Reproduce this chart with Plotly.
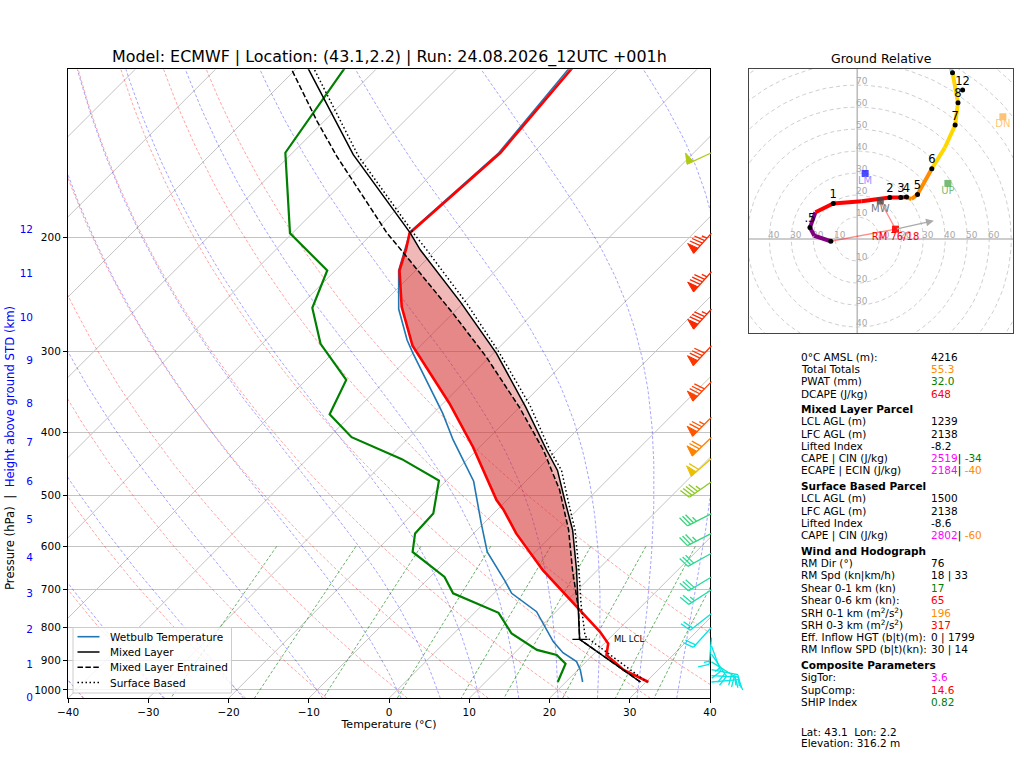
import numpy as np
import plotly.graph_objects as go

W, H = 1024, 768

# ---------------- sounding values ----------------
p_temp = [100, 148, 197, 208, 225, 256, 294, 361, 421, 509, 527, 573, 653, 744, 813, 848, 883, 931, 972]
t_temp = [-56.2, -54.1, -55.4, -53.9, -52.0, -47.2, -41.0, -29.2, -20.9, -11.3, -9.2, -4.7, 3.2, 12.0,
          18.0, 20.5, 21.7, 25.7, 30.3]

p_dwpt = [100, 148, 197, 225, 257, 292, 332, 375, 407, 440, 475, 534, 573, 612, 669, 709, 760, 818, 867,
          883, 911, 972]
t_dwpt = [-85.0, -80.9, -70.3, -61.0, -58.2, -52.7, -45.0, -42.8, -37.2, -28.2, -20.9, -17.5, -17.3, -15.3,
          -8.2, -5.1, 3.0, 7.2, 12.4, 15.5, 17.7, 19.0]

p_wetb = [100, 148, 196, 225, 258, 288, 302, 336, 374, 411, 476, 553, 612, 677, 709, 757, 799, 842, 876,
          904, 931, 972]
t_wetb = [-56.6, -54.3, -55.5, -52.1, -47.3, -42.4, -40.0, -34.4, -28.8, -24.2, -16.5, -10.3, -6.0, -0.3,
          2.2, 7.6, 10.5, 13.4, 16.0, 18.8, 20.3, 22.1]

# parcels
p_ml = [100, 110, 149, 197, 209, 252, 302, 366, 426, 458, 509, 566, 653, 752, 835, 972]
t_ml = [-93.7, -88.4, -72.2, -55.3, -52.0, -40.4, -29.6, -19.2, -11.3, -7.4, -2.8, 1.9, 7.4, 12.6, 16.4, 29.3]

p_mle = [100, 110, 132, 150, 197, 209, 262, 306, 366, 426, 491, 566, 653, 752, 835, 972]
t_mle = [-95.5, -90.5, -81.0, -74.0, -58.2, -54.4, -40.0, -30.4, -20.0, -11.7, -4.7, 1.4, 6.9, 12.6, 16.4, 29.3]

p_sb = [100, 110, 150, 197, 209, 253, 302, 363, 426, 458, 509, 566, 653, 735, 826, 972]
t_sb = [-93.0, -87.7, -71.3, -54.9, -51.2, -39.5, -29.2, -19.0, -10.9, -6.9, -2.4, 2.2, 7.7, 12.1, 16.7, 30.1]

lcl_p, lcl_t = 835, 16.4

# height axis (km above ground) and matching pressure
hgt_km = list(range(13))
hgt_p = [1028, 913, 806, 709, 624, 545, 476, 415, 361, 310, 266, 227, 194]

# wind barbs
barb_p = [148, 197, 226, 258, 294, 334, 379, 407, 439, 477, 534, 573, 615, 669, 700, 762, 800,
          830, 855, 880, 905, 930, 950, 972]
barb_dir = [245, 222, 222, 222, 223, 224, 225, 226, 229, 235, 243, 243, 241, 239, 237, 232, 222,
            185, 160, 146, 122, 101, 93, 85]
barb_spd = [50, 85, 85, 85, 82, 80, 76, 68, 58, 46, 36, 35, 30, 29, 27, 22, 18,
            17, 17, 19, 22, 21, 18, 12]

# hodograph (kt)
hodo_h = [0, 0.25, 0.5, 0.75, 1, 1.5, 2, 3, 4, 4.5, 5, 6, 6.5, 7, 8, 9, 10]
hodo_u = [-12.0, -19.5, -21.5, -19.0, -10.9, 2.0, 14.8, 19.8, 22.4, 24.7, 27.4, 33.9, 39.8, 44.5, 45.8, 43.3, 38.0]
hodo_v = [-1.0, 1.5, 5.2, 12.2, 16.2, 17.2, 18.9, 18.9, 19.1, 18.2, 20.3, 32.0, 41.5, 51.8, 62.0, 75.6, 88.0]
dot_h = [0, 0.5, 1, 2, 3, 4, 5, 6, 7, 8, 9]
lbl_h = [0.5, 1, 2, 3, 4, 5, 6, 7, 8]
lbl_t = [".5", "1", "2", "3", "4", "5", "6", "7", "8"]
h12_u, h12_v = 47.9, 67.7

mk_names = ["LM", "UP", "DN", "RM 76/18", "MW"]
mk_u = [3.6, 41.2, 66.2, 17.4, 10.5]
mk_v = [29.8, 25.3, 55.6, 4.5, 17.3]
rm_arrow = (34.8, 8.3)

table = [
    ("0°C AMSL (m):", [("4216", "black")]),
    ("Total Totals", [("55.3", "darkorange")]),
    ("PWAT (mm)", [("32.0", "green")]),
    ("DCAPE (J/kg)", [("648", "red")]),
    ("Mixed Layer Parcel", None),
    ("LCL AGL (m)", [("1239", "black")]),
    ("LFC AGL (m)", [("2138", "black")]),
    ("Lifted Index", [("-8.2", "black")]),
    ("CAPE | CIN (J/kg)", [("2519", "magenta"), ("| ", "black"), ("-34", "green")]),
    ("ECAPE | ECIN (J/kg)", [("2184", "magenta"), ("| ", "black"), ("-40", "darkorange")]),
    ("Surface Based Parcel", None),
    ("LCL AGL (m)", [("1500", "black")]),
    ("LFC AGL (m)", [("2138", "black")]),
    ("Lifted Index", [("-8.6", "black")]),
    ("CAPE | CIN (J/kg)", [("2802", "magenta"), ("| ", "black"), ("-60", "darkorange")]),
    ("Wind and Hodograph", None),
    ("RM Dir (°)", [("76", "black")]),
    ("RM Spd (kn|km/h)", [("18 | 33", "black")]),
    ("Shear 0-1 km (kn)", [("17", "green")]),
    ("Shear 0-6 km (kn):", [("65", "red")]),
    ("SRH 0-1 km (m<sup>2</sup>/s<sup>2</sup>)", [("196", "darkorange")]),
    ("SRH 0-3 km (m<sup>2</sup>/s<sup>2</sup>)", [("317", "red")]),
    ("Eff. Inflow HGT (b|t)(m):", [("0 | 1799", "black")]),
    ("RM Inflow SPD (b|t)(kn):", [("30 | 14", "black")]),
    ("Composite Parameters", None),
    ("SigTor:", [("3.6", "magenta")]),
    ("SupComp:", [("14.6", "red")]),
    ("SHIP Index", [("0.82", "green")]),
]
footer = ["Lat: 43.1  Lon: 2.2", "Elevation: 316.2 m"]

legend_names = ["Wetbulb Temperature", "Mixed Layer", "Mixed Layer Entrained", "Surface Based"]

TITLE = "Model: ECMWF | Location: (43.1,2.2) | Run: 24.08.2026_12UTC +001h"

# ---------------- geometry of the skew-T box ----------------
X0, X1, Y0, Y1 = 68.0, 710.0, 69.3, 698.3
P_BOT, P_TOP = 1030.0, 110.0
PX_DEG = (X1 - X0) / 80.0
PX_DEC = (Y1 - Y0) / np.log10(P_BOT / P_TOP)
SKEW = PX_DEC / PX_DEG
XB = 775.0
FONT = "DejaVu Sans"


def skx(t, p):
    return np.asarray(t, float) + SKEW * np.log10(P_BOT / np.asarray(p, float))


fig = go.Figure()


def add_lines(xs, ys, color, width, dash="solid", **kw):
    fig.add_trace(go.Scatter(x=xs, y=ys, mode="lines", line=dict(color=color, width=width, dash=dash),
                             hoverinfo="skip", showlegend=False, **kw))


# isotherms
iso_x, iso_y = [], []
for t in range(-120, 41, 10):
    iso_x += [float(skx(t, P_BOT)), float(skx(t, P_TOP)), None]
    iso_y += [P_BOT, P_TOP, None]
add_lines(iso_x, iso_y, "#c4c4c4", 1)

pg = np.geomspace(P_BOT, P_TOP, 80)

# dry adiabats
dx_, dy_ = [], []
for th in range(-40, 51, 10):
    tk = (th + 273.15) * (pg / 1000.0) ** 0.2857 - 273.15
    dx_ += list(skx(tk, pg)) + [None]
    dy_ += list(pg) + [None]
add_lines(dx_, dy_, "rgba(255,0,0,0.45)", 0.8, "3px,2px")

# moist adiabats
RD, CP, LV, EPS = 287.04, 1005.7, 2.501e6, 0.622


def dtdlnp(lnp, T):
    p = np.exp(lnp)
    es = 6.112 * np.exp(17.67 * (T - 273.15) / (T - 29.65))
    rs = EPS * es / (p - es)
    return (RD * T + LV * rs) / (CP + LV ** 2 * rs * EPS / (RD * T ** 2))


def moist_branch(t0k, p_end, n=120):
    lnp = np.linspace(np.log(1000.0), np.log(p_end), n)
    T = np.array(t0k, float)
    out = [T.copy()]
    for a, b in zip(lnp[:-1], lnp[1:]):
        h = b - a
        k1 = dtdlnp(a, T)
        k2 = dtdlnp(a + h / 2, T + h / 2 * k1)
        k3 = dtdlnp(a + h / 2, T + h / 2 * k2)
        k4 = dtdlnp(b, T + h * k3)
        T = T + h / 6 * (k1 + 2 * k2 + 2 * k3 + k4)
        out.append(T.copy())
    return np.exp(lnp), np.array(out)


t0m = np.array(list(range(-40, 0, 10)) + list(range(0, 41, 5)), float) + 273.15
pu, tu = moist_branch(t0m, P_TOP)
pd_, td_ = moist_branch(t0m, P_BOT, 6)
mx_, my_ = [], []
for i in range(len(t0m)):
    pp = np.concatenate([pd_[::-1], pu[1:]])
    tt = np.concatenate([td_[::-1, i], tu[1:, i]]) - 273.15
    mx_ += list(skx(tt, pp)) + [None]
    my_ += list(pp) + [None]
add_lines(mx_, my_, "rgba(0,0,255,0.45)", 0.8, "3px,2px")

# mixing ratio lines
pm = np.geomspace(600, P_BOT, 30)
wx_, wy_ = [], []
for w in [0.0004, 0.001, 0.002, 0.004, 0.007, 0.01, 0.016, 0.024, 0.032]:
    e = pm * w / (EPS + w)
    lg = np.log(e / 6.112)
    tdw = 243.5 * lg / (17.67 - lg)
    wx_ += list(skx(tdw, pm)) + [None]
    wy_ += list(pm) + [None]
add_lines(wx_, wy_, "rgba(0,128,0,0.75)", 0.8, "3px,2px")


# CAPE shading between parcel and environment
def cape_fill(pp, tp, color):
    lp = np.linspace(np.log10(max(pp)), np.log10(min(pp)), 3000)
    tpi = np.interp(lp, np.log10(pp), tp)
    tei = np.interp(lp, np.log10(p_temp), t_temp)
    idx = np.where(tpi > tei)[0]
    if len(idx) == 0:
        return
    runs = np.split(idx, np.where(np.diff(idx) > 1)[0] + 1)
    for r in runs:
        pr = 10 ** lp[r]
        xs = list(skx(tpi[r], pr)) + list(skx(tei[r], pr))[::-1]
        ys = list(pr) + list(pr)[::-1]
        fig.add_trace(go.Scatter(x=xs, y=ys, mode="lines", fill="toself", fillcolor=color,
                                 line=dict(width=0), hoverinfo="skip", showlegend=False))


cape_fill(p_ml, t_ml, "rgba(214,39,40,0.33)")
cape_fill(p_mle, t_mle, "rgba(214,39,40,0.33)")

# profiles
WB_STYLE = dict(color="#1f77b4", width=1.6)
PARCEL_STYLES = [dict(color="black", width=1.5, dash="solid"),
                 dict(color="black", width=1.5, dash="5.5px,2.4px"),
                 dict(color="black", width=1.5, dash="1.5px,2.5px")]
add_lines(list(skx(t_wetb, p_wetb)), p_wetb, WB_STYLE["color"], WB_STYLE["width"])
add_lines(list(skx(t_dwpt, p_dwpt)), p_dwpt, "green", 2.2)
add_lines(list(skx(t_temp, p_temp)), p_temp, "red", 2.6)
for (pp_, tt_), st in zip([(p_ml, t_ml), (p_mle, t_mle), (p_sb, t_sb)], PARCEL_STYLES):
    add_lines(list(skx(tt_, pp_)), pp_, st["color"], st["width"], st["dash"])

# LCL tick
xl = float(skx(lcl_t, lcl_p))
add_lines([xl - 0.9, xl + 1.0], [lcl_p, lcl_p], "black", 1.3)

# dummy trace for the height axis
fig.add_trace(go.Scatter(x=[0], y=[500], yaxis="y4", mode="markers", marker=dict(opacity=0),
                         hoverinfo="skip", showlegend=False))


# ---------------- wind barbs ----------------
def barb_shapes(spd, wdir, L=27.0):
    hh, ww, sp = 0.4 * L, 0.25 * L, 0.125 * L
    s = int(5 * round(spd / 5.0))
    nflag, rem = divmod(s, 50)
    nbarb, rem = divmod(rem, 10)
    half = rem >= 5
    a = np.radians(wdir)

    def pt(t, h):
        ex = t * np.sin(a) + h * np.cos(a)
        ey = t * np.cos(a) - h * np.sin(a)
        return (ex, -ey)

    lines = [pt(0, 0), pt(L, 0), None]
    polys = []
    off = L
    for _ in range(nflag):
        if off != L:
            off += sp / 2
        polys += [pt(off, 0), pt(off - ww / 2, hh), pt(off - ww, 0), pt(off, 0), None]
        off -= ww + sp
    for _ in range(nbarb):
        lines += [pt(off, 0), pt(off + ww / 2, hh), None]
        off -= sp
    if half:
        if off == L:
            off -= 1.5 * sp
        lines += [pt(off, 0), pt(off + ww / 4, hh / 2), None]
    return lines, polys


spd_k = [0, 20, 28, 38, 46, 56, 66, 76, 86, 100]
spd_c = [(0, 240, 255), (0, 230, 230), (40, 220, 160), (60, 210, 110), (140, 200, 40), (230, 205, 0),
         (255, 140, 0), (255, 85, 0), (250, 35, 0), (230, 0, 0)]


def spd_color(s):
    c = [np.interp(s, spd_k, [cc[i] for cc in spd_c]) for i in range(3)]
    return "rgb(%d,%d,%d)" % tuple(int(v) for v in c)


BX = 40.0 + 1.5 / PX_DEG
for p0, d0, s0 in zip(barb_p, barb_dir, barb_spd):
    lines, polys = barb_shapes(s0, d0)
    col = spd_color(s0)

    def conv(pts):
        xs, ys = [], []
        for q in pts:
            if q is None:
                xs.append(None)
                ys.append(None)
            else:
                xs.append(BX + q[0] / PX_DEG)
                ys.append(p0 * 10 ** (q[1] / PX_DEC))
        return xs, ys

    lx, ly = conv(lines)
    fig.add_trace(go.Scatter(x=lx, y=ly, xaxis="x3", yaxis="y3", mode="lines",
                             line=dict(color=col, width=1.3), hoverinfo="skip", showlegend=False))
    if polys:
        fx, fy = conv(polys)
        fig.add_trace(go.Scatter(x=fx, y=fy, xaxis="x3", yaxis="y3", mode="lines", fill="toself",
                                 fillcolor=col, line=dict(color=col, width=1), hoverinfo="skip",
                                 showlegend=False))

# ---------------- hodograph ----------------
HX = [-49.2, 70.8]
HY = [-42.7, 77.3]
th = np.linspace(0, 2 * np.pi, 181)
rx, ry = [], []
for r in range(10, 101, 10):
    rx += list(r * np.cos(th)) + [None]
    ry += list(r * np.sin(th)) + [None]
fig.add_trace(go.Scatter(x=rx, y=ry, xaxis="x2", yaxis="y2", mode="lines",
                         line=dict(color="#cfcfcf", width=1, dash="4px,3px"), hoverinfo="skip",
                         showlegend=False))
fig.add_trace(go.Scatter(x=[-60, 80, None, 0, 0], y=[0, 0, None, -50, 90], xaxis="x2", yaxis="y2",
                         mode="lines", line=dict(color="#bdbdbd", width=1.6), hoverinfo="skip",
                         showlegend=False))
lab_x, lab_y, lab_t = [], [], []
for r in range(10, 80, 10):
    for sx in (-1, 1):
        if HX[0] + 4 < sx * r < HX[1] - 6:
            lab_x.append(sx * r + 2.0)
            lab_y.append(1.4)
            lab_t.append(str(r))
        if HY[0] + 2 < sx * r < HY[1] - 4:
            lab_x.append(2.0)
            lab_y.append(sx * r + 1.4)
            lab_t.append(str(r))
fig.add_trace(go.Scatter(x=lab_x, y=lab_y, text=lab_t, xaxis="x2", yaxis="y2", mode="text",
                         textfont=dict(size=9, color="#a8a8a8", family=FONT), hoverinfo="skip",
                         showlegend=False))

# RM / MW guide lines
fig.add_trace(go.Scatter(x=[mk_u[4], mk_u[3], None, hodo_u[0], mk_u[3]],
                         y=[mk_v[4], mk_v[3], None, hodo_v[0], mk_v[3]], xaxis="x2", yaxis="y2",
                         mode="lines", line=dict(color="rgba(255,0,0,0.45)", width=1.3),
                         hoverinfo="skip", showlegend=False))


def hodo_color(h):
    if h < 0.75:
        return "purple"
    if h < 4:
        return "red"
    if h < 6:
        return "darkorange"
    if h < 9:
        return "gold"
    return "lightblue"


for i in range(len(hodo_h) - 1):
    fig.add_trace(go.Scatter(x=hodo_u[i:i + 2], y=hodo_v[i:i + 2], xaxis="x2", yaxis="y2", mode="lines",
                             line=dict(color=hodo_color(hodo_h[i]), width=4), hoverinfo="skip",
                             showlegend=False))

du = [float(np.interp(h, hodo_h, hodo_u)) for h in dot_h] + [h12_u]
dv = [float(np.interp(h, hodo_h, hodo_v)) for h in dot_h] + [h12_v]
fig.add_trace(go.Scatter(x=du, y=dv, xaxis="x2", yaxis="y2", mode="markers",
                         marker=dict(color="black", size=5), hoverinfo="skip", showlegend=False))
lu = [float(np.interp(h, hodo_h, hodo_u)) for h in lbl_h] + [h12_u]
lv = [float(np.interp(h, hodo_h, hodo_v)) + 3.8 for h in lbl_h] + [h12_v + 3.8]
fig.add_trace(go.Scatter(x=lu, y=lv, text=lbl_t + ["12"], xaxis="x2", yaxis="y2", mode="text",
                         textfont=dict(size=11.5, color="black", family=FONT), hoverinfo="skip",
                         showlegend=False))

mk_col = ["rgba(30,30,255,0.8)", "rgba(60,160,60,0.7)", "rgba(255,170,60,0.7)", "rgba(255,0,0,0.9)",
          "rgba(70,70,70,0.8)"]
mk_tcol = ["rgba(120,120,255,0.8)", "rgba(80,170,80,0.8)", "rgba(255,190,100,0.9)", "red", "#777777"]
for n, u, v, c, tc in zip(mk_names, mk_u, mk_v, mk_col, mk_tcol):
    fig.add_trace(go.Scatter(x=[u], y=[v], xaxis="x2", yaxis="y2", mode="markers",
                             marker=dict(symbol="square", size=7, color=c), hoverinfo="skip",
                             showlegend=False))
    fig.add_trace(go.Scatter(x=[u], y=[v - 3.7], text=[n], xaxis="x2", yaxis="y2", mode="text",
                             textfont=dict(size=10, color=tc, family=FONT), hoverinfo="skip",
                             showlegend=False))

# ---------------- annotations ----------------
ann = []
shapes = []
ann.append(dict(x=(X0 + X1) / 2 / W, y=1 - 57 / H, xref="paper", yref="paper", text=TITLE, showarrow=False,
                font=dict(size=15.9, family=FONT, color="black"), xanchor="center", yanchor="middle"))
ann.append(dict(x=881 / W, y=1 - 59 / H, xref="paper", yref="paper", text="Ground Relative", showarrow=False,
                font=dict(size=12.5, family=FONT, color="black"), xanchor="center", yanchor="middle"))
ann.append(dict(x=10 / W, y=1 - 592 / H, xref="paper", yref="paper", textangle=-90, showarrow=False,
                text='Pressure (hPa)  |  <span style="color:blue">Height above ground STD (km)</span>',
                font=dict(size=11.7, family=FONT, color="black"), xanchor="center", yanchor="bottom"))
ann.append(dict(x=xl + 4.0, y=float(np.log10(lcl_p)), xref="x", yref="y", text="ML LCL", showarrow=False,
                font=dict(size=8.5, family=FONT, color="black"), xanchor="left", yanchor="middle"))
ann.append(dict(x=rm_arrow[0], y=rm_arrow[1], ax=mk_u[3], ay=mk_v[3], xref="x2", yref="y2",
                axref="x2", ayref="y2", text="", showarrow=True, arrowhead=2, arrowsize=1.2,
                arrowwidth=1.3, arrowcolor="#aaaaaa"))

# legend (drawn by hand to match the compact box)
shapes.append(dict(type="rect", xref="paper", yref="paper", x0=73 / W, x1=231.5 / W, y0=1 - 693 / H,
                   y1=1 - 627.5 / H, line=dict(color="#cccccc", width=1), fillcolor="rgba(255,255,255,0.8)",
                   layer="above"))
leg_styles = [WB_STYLE] + PARCEL_STYLES
for k, (nm, st) in enumerate(zip(legend_names, leg_styles)):
    yy = 1 - (636.7 + 15.3 * k) / H
    shapes.append(dict(type="line", xref="paper", yref="paper", x0=77.5 / W, x1=99.5 / W, y0=yy, y1=yy,
                       line=dict(color=st["color"], width=st["width"], dash=st.get("dash", "solid")),
                       layer="above"))
    ann.append(dict(x=107.5 / W, y=yy, xref="paper", yref="paper", text=nm, showarrow=False,
                    font=dict(size=10.5, family=FONT, color="black"), xanchor="left", yanchor="middle"))

ty = 356.7
for k, (lab, vals) in enumerate(table):
    if k > 0:
        ty += 15.3 if vals is None else 12.35
    if vals is None:
        txt = "<b>%s</b>" % lab
    else:
        txt = lab
        vtxt = "".join('<span style="color:%s">%s</span>' % (c, s) for s, c in vals)
        ann.append(dict(x=929 / W, y=1 - ty / H, xref="paper", yref="paper", text=vtxt, showarrow=False,
                        font=dict(size=10.5, family=FONT, color="black"), xanchor="left", yanchor="middle"))
    ann.append(dict(x=799 / W, y=1 - ty / H, xref="paper", yref="paper", text=txt, showarrow=False,
                    font=dict(size=10.5, family=FONT, color="black"), xanchor="left", yanchor="middle"))
for k, s in enumerate(footer):
    ann.append(dict(x=799 / W, y=1 - (731.7 + 11.6 * k) / H, xref="paper", yref="paper", text=s,
                    showarrow=False, font=dict(size=10.5, family=FONT, color="black"), xanchor="left",
                    yanchor="middle"))

ydom = [1 - Y1 / H, 1 - Y0 / H]
yrng = [np.log10(P_BOT), np.log10(P_TOP)]
fig.update_layout(
    width=W, height=H, margin=dict(l=0, r=0, t=0, b=0, pad=0, autoexpand=False),
    paper_bgcolor="white", plot_bgcolor="rgba(0,0,0,0)",
    font=dict(family=FONT, size=10, color="black"),
    annotations=ann, shapes=shapes, showlegend=False,
    xaxis=dict(domain=[X0 / W, X1 / W], range=[-40, 40], tickmode="array", tickvals=list(range(-40, 41, 10)),
               ticks="outside", ticklen=4, tickcolor="black", showline=True, linecolor="black", linewidth=1,
               mirror=True, showgrid=False, zeroline=False, anchor="y", automargin=False,
               tickfont=dict(size=10.5, color="black"),
               title=dict(text="Temperature (°C)", font=dict(size=11, color="black"), standoff=3)),
    yaxis=dict(domain=ydom, type="log", range=yrng, tickmode="array", tickvals=list(range(200, 1001, 100)),
               ticktext=[str(v) for v in range(200, 1001, 100)], ticks="outside", ticklen=4,
               tickcolor="black", showline=True, linecolor="black", linewidth=1, mirror=True,
               showgrid=True, gridcolor="#c4c4c4", gridwidth=1, zeroline=False, anchor="x", automargin=False,
               tickfont=dict(size=10.5, color="black")),
    xaxis2=dict(domain=[749 / W, 1013 / W], range=HX, showticklabels=False, ticks="",
                showgrid=False, zeroline=False, showline=True, mirror=True, linecolor="#444444",
                linewidth=1.3, anchor="y2", automargin=False),
    yaxis2=dict(domain=[1 - 333 / H, 1 - 69 / H], range=HY, showticklabels=False, ticks="",
                showgrid=False, zeroline=False, showline=True, mirror=True, linecolor="#444444",
                linewidth=1.3, anchor="x2", automargin=False),
    xaxis3=dict(domain=[X0 / W, XB / W], range=[-40, 40 + (XB - X1) / PX_DEG], visible=False, anchor="y3",
                automargin=False),
    yaxis3=dict(domain=ydom, type="log", range=yrng, visible=False, anchor="x3", automargin=False),
    yaxis4=dict(overlaying="y", anchor="free", position=33 / W, side="left", type="log", range=yrng,
                tickmode="array", tickvals=hgt_p, ticktext=[str(h) for h in hgt_km], ticks="",
                showline=False, showgrid=False, zeroline=False, automargin=False,
                tickfont=dict(size=10.5, color="blue")),
)

fig.write_html("out.html", config={"displayModeBar": False},
               post_script="document.body.style.margin='0px';document.body.style.overflow='hidden';")
